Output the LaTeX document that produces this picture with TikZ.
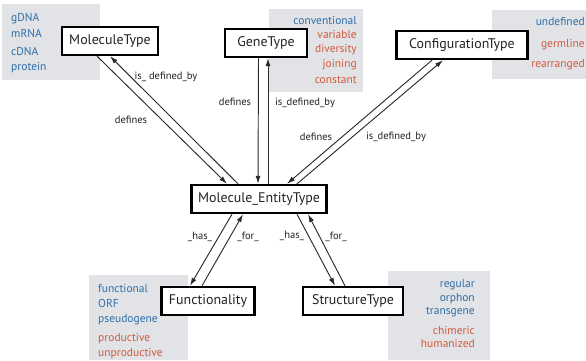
\documentclass[tikz,border=0pt]{standalone}
\usepackage{fontspec}
\setmainfont{PT Sans}
\usepackage{xcolor}
\definecolor{cBlue}{HTML}{2F6FA8}
\definecolor{cRed}{HTML}{D25A3C}
\definecolor{cPanel}{HTML}{E1E3E6}
\definecolor{cInk}{HTML}{222222}
\definecolor{cLine}{HTML}{2B2B2B}
\usetikzlibrary{arrows.meta,calc}
\tikzset{
  node-type/.style={draw=black,line width=2pt,fill=white,inner sep=2pt,
    minimum height=0.84cm,align=center,text=cInk,
    font=\fontsize{11.9}{14}\selectfont},
  panel/.style={fill=cPanel,draw=none},
  item/.style={inner sep=0pt,font=\fontsize{9.8}{12}\selectfont},
  item-l/.style={item,anchor=base west},
  item-r/.style={item,anchor=base east},
  rel-label/.style={inner sep=0pt,text=cInk,font=\fontsize{9}{11}\selectfont},
  arrow/.style={-{Latex[length=2.4mm,width=1.5mm]},line width=0.8pt,draw=cLine},
}

\begin{document}
\begin{tikzpicture}[x=0.03cm,y=-0.03cm]
  \useasboundingbox (0,0) rectangle (586,360);
  % value panels
  \fill[panel] (2,4) rectangle (100,80);
  \fill[panel] (269,9) rectangle (363,92);
  \fill[panel] (492,10) rectangle (586,79);
  \fill[panel] (89,275) rectangle (188,360);
  \fill[panel] (388,271) rectangle (490,360);
  % panel values
  \foreach \t/\y/\c [count=\i] in {gDNA/21/cBlue,mRNA/37/cBlue,cDNA/55/cBlue,protein/70/cBlue}
    \node[item-l,text=\c] (mol-v\i) at (11,\y) {\t};
  \foreach \t/\y/\c [count=\i] in {conventional/24/cBlue,variable/38/cRed,diversity/52/cRed,
      joining/67/cRed,constant/83/cRed}
    \node[item-r,text=\c] (gene-v\i) at (357,\y) {\t};
  \foreach \t/\y/\c [count=\i] in {undefined/25/cBlue,germline/47/cRed,rearranged/67/cRed}
    \node[item-r,text=\c] (conf-v\i) at (585,\y) {\t};
  \foreach \t/\y/\c [count=\i] in {functional/292/cBlue,ORF/307/cBlue,pseudogene/322/cBlue,
      productive/341/cRed,unproductive/356/cRed}
    \node[item-l,text=\c] (func-v\i) at (98,\y) {\t};
  \foreach \t/\y/\c [count=\i] in {regular/287/cBlue,orphon/301/cBlue,transgene/314/cBlue,
      chimeric/334/cRed,humanized/347/cRed}
    \node[item-r,text=\c] (struct-v\i) at (475,\y) {\t};
  % types
  \node[node-type,minimum width=2.88cm] (mol)    at (110,41)  {MoleculeType};
  \node[node-type,minimum width=2.46cm] (gene)   at (266,43)  {GeneType};
  \node[node-type,minimum width=3.93cm] (conf)   at (462,45)  {ConfigurationType};
  \node[node-type,minimum width=4.05cm] (entity) at (259,199) {Molecule\_EntityType};
  \node[node-type,minimum width=2.79cm] (func)   at (208,301) {Functionality};
  \node[node-type,minimum width=3.0cm]  (struct) at (353,301) {StructureType};
  % relations
  \draw[arrow] ($(mol.south)+(-13,0)$) -- ($(entity.north)+(-32,0)$);
  \draw[arrow] ($(entity.north)+(-21,0)$) -- ($(mol.south)+(0,0)$);
  \draw[arrow] ($(gene.south)+(-7.5,0)$) -- ($(entity.north)+(-1,0)$);
  \draw[arrow] ($(entity.north)+(9,0)$) -- ($(gene.south)+(2,0)$);
  \draw[arrow] ($(conf.south)+(-30,0)$) -- ($(entity.north)+(28,0)$);
  \draw[arrow] ($(entity.north)+(38,0)$) -- ($(conf.south)+(-19,0)$);
  \draw[arrow] ($(entity.south)+(-27,0)$) -- ($(func.north)+(-18,0)$);
  \draw[arrow] ($(func.north)+(-6,0)$) -- ($(entity.south)+(-16,0)$);
  \draw[arrow] ($(entity.south)+(38,0)$) -- ($(struct.north)+(-18,0)$);
  \draw[arrow] ($(struct.north)+(-8,0)$) -- ($(entity.south)+(49,0)$);
  % relation labels
  \node[rel-label] (mol-isdef)  at (166,77)  {is\_ defined\_by};
  \node[rel-label] (mol-def)    at (131,120) {defines};
  \node[rel-label] (gene-def)   at (235,102) {defines};
  \node[rel-label] (gene-isdef) at (305,103) {is\_defined\_by};
  \node[rel-label] (conf-def)   at (316,137) {defines};
  \node[rel-label] (conf-isdef) at (396,137) {is\_defined\_by};
  \node[rel-label] (func-has)   at (200,237) {\_has\_};
  \node[rel-label] (func-for)   at (248,237) {\_for\_};
  \node[rel-label] (struct-has) at (292,236) {\_has\_};
  \node[rel-label] (struct-for) at (336,237) {\_for\_};
\end{tikzpicture}
\end{document}
